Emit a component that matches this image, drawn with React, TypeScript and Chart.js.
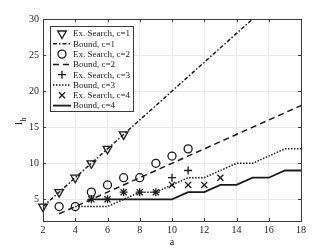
import React, { useEffect, useRef } from 'react';
import { Chart, registerables } from 'chart.js';

Chart.register(...registerables);

// ---- data ----
const xTickValues = [2, 4, 6, 8, 10, 12, 14, 16, 18];
const yTickValues = [5, 10, 15, 20, 25, 30];

const search1A = [2, 3, 4, 5, 6, 7];
const search1L = [4, 6, 8, 10, 12, 14];
const bound1A = [2, 15];
const bound1L = [4, 30];

const search2A = [3, 4, 5, 6, 7, 8, 9, 10, 11];
const search2L = [4, 4, 6, 7, 8, 8, 10, 11, 12];
const bound2A = [3, 18];
const bound2L = [3, 18];

const search3A = [5, 6, 7, 8, 9, 10, 11];
const search3L = [5, 5, 6, 6, 6, 8, 9];
const bound3A = [4, 5, 6, 7, 8, 9, 10, 11, 12, 13, 14, 15, 16, 17, 18];
const bound3L = [4, 4, 4, 5, 6, 6, 7, 8, 8, 9, 10, 10, 11, 12, 12];

const search4A = [5, 6, 7, 8, 9, 10, 11, 12, 13];
const search4L = [5, 5, 6, 6, 6, 7, 7, 7, 8];
const bound4A = [5, 6, 7, 8, 9, 10, 11, 12, 13, 14, 15, 16, 17, 18];
const bound4L = [5, 5, 5, 5, 5, 5, 6, 6, 7, 7, 8, 8, 9, 9];

const legendLabels = [
  'Ex. Search, c=1',
  'Bound, c=1',
  'Ex. Search, c=2',
  'Bound, c=2',
  'Ex. Search, c=3',
  'Bound, c=3',
  'Ex. Search, c=4',
  'Bound, c=4',
];

const INK = '#1a1a1a';
const FONT = '"Liberation Serif", "DejaVu Serif", serif';

const pts = (a: number[], l: number[]) => a.map((x, i) => ({ x, y: l[i] }));

const markerDS = (label: string, a: number[], l: number[], style: string, radius: number, rotation = 0) => ({
  label,
  data: pts(a, l),
  showLine: false,
  pointStyle: style,
  pointRadius: radius,
  pointRotation: rotation,
  pointBorderColor: INK,
  pointBackgroundColor: 'rgba(0,0,0,0)',
  pointBorderWidth: 1.3,
  borderColor: INK,
  backgroundColor: 'rgba(0,0,0,0)',
  clip: 8,
});

const lineDS = (label: string, a: number[], l: number[], dash: number[], width: number) => ({
  label,
  data: pts(a, l),
  showLine: true,
  pointRadius: 0,
  borderColor: INK,
  borderWidth: width,
  borderDash: dash,
  backgroundColor: 'rgba(0,0,0,0)',
  tension: 0,
  fill: false,
});

const dash1 = [4, 2, 1.5, 2];
const dash2 = [6, 4];
const dash3 = [1.5, 1.5];
const dash4: number[] = [];

function drawMarker(ctx: CanvasRenderingContext2D, kind: string, x: number, y: number) {
  ctx.save();
  ctx.strokeStyle = INK;
  ctx.lineWidth = 1.3;
  ctx.setLineDash([]);
  ctx.beginPath();
  if (kind === 'tri') {
    const r = 5;
    ctx.moveTo(x, y + r);
    ctx.lineTo(x - r * 0.866, y - r * 0.5);
    ctx.lineTo(x + r * 0.866, y - r * 0.5);
    ctx.closePath();
  } else if (kind === 'circle') {
    ctx.arc(x, y, 4, 0, Math.PI * 2);
  } else if (kind === 'plus') {
    ctx.moveTo(x - 4, y);
    ctx.lineTo(x + 4, y);
    ctx.moveTo(x, y - 4);
    ctx.lineTo(x, y + 4);
  } else if (kind === 'x') {
    const d = 3;
    ctx.moveTo(x - d, y - d);
    ctx.lineTo(x + d, y + d);
    ctx.moveTo(x - d, y + d);
    ctx.lineTo(x + d, y - d);
  }
  ctx.stroke();
  ctx.restore();
}

const decorPlugin = {
  id: 'decor',
  afterDraw(chart: any) {
    const ctx: CanvasRenderingContext2D = chart.ctx;
    const { left, right, top, bottom } = chart.chartArea;
    const xs = chart.scales.x;
    const ys = chart.scales.y;
    ctx.save();
    // box
    ctx.strokeStyle = '#3a3a3a';
    ctx.lineWidth = 1;
    ctx.setLineDash([]);
    ctx.strokeRect(Math.round(left) + 0.5, Math.round(top) + 0.5, Math.round(right - left), Math.round(bottom - top));
    // inward ticks
    ctx.beginPath();
    xTickValues.forEach((v) => {
      const px = Math.round(xs.getPixelForValue(v)) + 0.5;
      ctx.moveTo(px, bottom);
      ctx.lineTo(px, bottom - 3);
      ctx.moveTo(px, top);
      ctx.lineTo(px, top + 3);
    });
    yTickValues.forEach((v) => {
      const py = Math.round(ys.getPixelForValue(v)) + 0.5;
      ctx.moveTo(left, py);
      ctx.lineTo(left + 3, py);
      ctx.moveTo(right, py);
      ctx.lineTo(right - 3, py);
    });
    ctx.stroke();

    // axis titles
    ctx.fillStyle = INK;
    ctx.font = `10px ${FONT}`;
    ctx.textAlign = 'center';
    ctx.textBaseline = 'middle';
    ctx.fillText('a', (left + right) / 2, 242);

    ctx.save();
    ctx.translate(22, 125);
    ctx.rotate(-Math.PI / 2);
    ctx.textAlign = 'left';
    ctx.textBaseline = 'alphabetic';
    ctx.font = `11px ${FONT}`;
    ctx.fillText('l', 0, 0);
    const w = ctx.measureText('l').width;
    ctx.font = `7.5px ${FONT}`;
    ctx.fillText('h', w + 0.5, 3.5);
    ctx.restore();

    // legend
    const bx = 50, by = 26, bw = 83, bh = 85;
    ctx.fillStyle = '#ffffff';
    ctx.fillRect(bx, by, bw, bh);
    ctx.strokeStyle = '#3a3a3a';
    ctx.lineWidth = 1;
    ctx.strokeRect(bx + 0.5, by + 0.5, bw, bh);
    const kinds = ['tri', dash1, 'circle', dash2, 'plus', dash3, 'x', dash4];
    const widths = [1.5, 1.5, 1.5, 1.8];
    ctx.font = `9px ${FONT}`;
    ctx.textAlign = 'left';
    ctx.textBaseline = 'middle';
    legendLabels.forEach((lab, i) => {
      const cy = 33.5 + i * 10.3;
      const k = kinds[i];
      if (typeof k === 'string') {
        drawMarker(ctx, k, 62, cy);
      } else {
        ctx.save();
        ctx.strokeStyle = INK;
        ctx.lineWidth = widths[(i - 1) / 2];
        ctx.setLineDash(k as number[]);
        ctx.beginPath();
        ctx.moveTo(53, cy);
        ctx.lineTo(71, cy);
        ctx.stroke();
        ctx.restore();
      }
      ctx.fillStyle = INK;
      ctx.fillText(lab, 73, cy + 0.5);
    });
    ctx.restore();
  },
};

export default function App() {
  const ref = useRef<HTMLCanvasElement | null>(null);
  useEffect(() => {
    document.body.style.margin = '0';
    const canvas = ref.current!;
    const chart = new Chart(canvas, {
      type: 'line',
      data: {
        datasets: [
          markerDS(legendLabels[0], search1A, search1L, 'triangle', 5, 180),
          lineDS(legendLabels[1], bound1A, bound1L, dash1, 1.5),
          markerDS(legendLabels[2], search2A, search2L, 'circle', 4),
          lineDS(legendLabels[3], bound2A, bound2L, dash2, 1.5),
          markerDS(legendLabels[4], search3A, search3L, 'cross', 4),
          lineDS(legendLabels[5], bound3A, bound3L, dash3, 1.5),
          markerDS(legendLabels[6], search4A, search4L, 'crossRot', 4.3),
          lineDS(legendLabels[7], bound4A, bound4L, dash4, 1.8),
        ] as any,
      },
      options: {
        animation: false,
        responsive: false,
        devicePixelRatio: 1,
        layout: { padding: { left: 0, top: 19, right: 31, bottom: 0 } },
        plugins: { legend: { display: false }, tooltip: { enabled: false } },
        scales: {
          x: {
            type: 'linear',
            min: 2,
            max: 18,
            afterBuildTicks: (s: any) => {
              s.ticks = xTickValues.map((v) => ({ value: v }));
            },
            afterFit: (s: any) => {
              s.height = 28;
            },
            grid: { color: '#e8e8e8', lineWidth: 1, drawTicks: false },
            border: { display: false },
            ticks: { color: '#262626', font: { family: FONT, size: 10 }, padding: 3, maxRotation: 0 },
          },
          y: {
            type: 'linear',
            min: 2,
            max: 30,
            afterBuildTicks: (s: any) => {
              s.ticks = yTickValues.map((v) => ({ value: v }));
            },
            afterFit: (s: any) => {
              s.width = 43;
            },
            grid: { color: '#e8e8e8', lineWidth: 1, drawTicks: false },
            border: { display: false },
            ticks: { color: '#262626', font: { family: FONT, size: 10 }, padding: 4 },
          },
        },
      },
      plugins: [decorPlugin],
    });
    return () => chart.destroy();
  }, []);
  return (
    <div style={{ width: 332, height: 249 }}>
      <canvas ref={ref} width={332} height={249} style={{ width: 332, height: 249, display: 'block' }} />
    </div>
  );
}
